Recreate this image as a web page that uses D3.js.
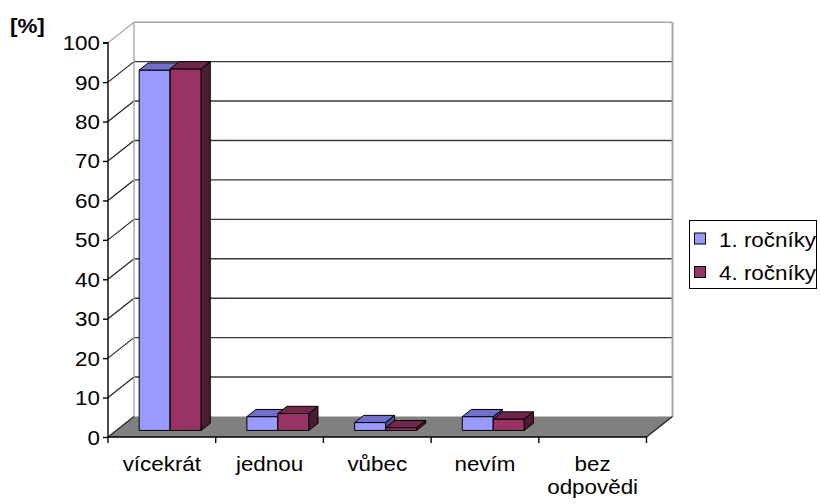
<!DOCTYPE html>
<html>
<head>
<meta charset="utf-8">
<script src="https://cdn.jsdelivr.net/npm/d3@7/dist/d3.min.js"></script>
<style>
  html, body { margin: 0; padding: 0; background: #fff; }
  svg { display: block; }
  text { font-family: "Liberation Sans", Arial, sans-serif; fill: #000; }
</style>
</head>
<body>
<svg id="chart" width="820" height="504"></svg>
<script>
// Data
const categories = ["vícekrát", "jednou", "vůbec", "nevím", "bez odpovědi"];
const seriesNames = ["1. ročníky", "4. ročníky"];
const firstYear = [91.4, 3.5, 2.0, 3.5, 0];
const fourthYear = [91.7, 4.3, 0.7, 2.9, 0];
const yTicks = [0, 10, 20, 30, 40, 50, 60, 70, 80, 90, 100];
const yAxisTitle = "[%]";

const seriesValues = [firstYear, fourthYear];
const palette = [
  { front: "#9999ff", top: "#7070cc", side: "#4d4d80" },
  { front: "#993366", top: "#73264d", side: "#4d1a33" }
];

const svg = d3.select("#chart");
const FONT = 20, SX = 1.12;

// 3D projection: full depth of the plot box
const DX = 26, DY = -20.5;
// bars occupy part of that depth
const frontF = 0.32, barF = 0.35;
const fdx = DX * frontF, fdy = DY * frontF;
const bdx = DX * barF, bdy = DY * barF;

const x = d3.scaleBand().domain(categories).range([108, 646.5]).padding(0);
const y = d3.scaleLinear().domain([0, 100]).range([437, 42.7]);
const inner = d3.scaleBand().domain(seriesNames)
  .range([0, x.bandwidth()]).paddingInner(0).paddingOuter(0.737);

const xL = x.range()[0], xR = x.range()[1];

// back wall
svg.append("rect")
  .attr("x", xL + DX).attr("y", y(100) + DY)
  .attr("width", xR - xL).attr("height", y(0) - y(100))
  .attr("fill", "#fff");

// back-wall gridlines
svg.append("g").selectAll("line")
  .data(yTicks.filter(t => t > 0 && t < 100)).join("line")
  .attr("x1", xL + DX).attr("x2", xR + DX)
  .attr("y1", d => y(d) + DY).attr("y2", d => y(d) + DY)
  .attr("stroke", "#3a3a3a").attr("stroke-width", 1.4);

// side-wall gridlines
svg.append("g").selectAll("line")
  .data(yTicks.filter(t => t > 0)).join("line")
  .attr("x1", xL).attr("x2", xL + DX)
  .attr("y1", d => y(d)).attr("y2", d => y(d) + DY)
  .attr("stroke", d => d === 100 ? "#a8a8a8" : "#222")
  .attr("stroke-width", 1.2);

// wall edges
const wallEdge = "#a8a8a8";
svg.append("line").attr("x1", xL + DX).attr("x2", xR + DX)
  .attr("y1", y(100) + DY).attr("y2", y(100) + DY)
  .attr("stroke", wallEdge).attr("stroke-width", 1.6);
svg.append("line").attr("x1", xL + DX).attr("x2", xL + DX)
  .attr("y1", y(100) + DY).attr("y2", y(0) + DY)
  .attr("stroke", wallEdge).attr("stroke-width", 1.4);
svg.append("line").attr("x1", xR + DX).attr("x2", xR + DX)
  .attr("y1", y(100) + DY).attr("y2", y(0) + DY)
  .attr("stroke", wallEdge).attr("stroke-width", 2);

// floor
svg.append("path")
  .attr("d", d3.line()([
    [xL, y(0)], [xR, y(0)], [xR + DX, y(0) + DY], [xL + DX, y(0) + DY]
  ]) + "Z")
  .attr("fill", "#808080");
svg.append("line").attr("x1", xR).attr("y1", y(0))
  .attr("x2", xR + DX).attr("y2", y(0) + DY)
  .attr("stroke", "#222").attr("stroke-width", 1.2);
svg.append("line").attr("x1", xL).attr("y1", y(0))
  .attr("x2", xL + DX).attr("y2", y(0) + DY)
  .attr("stroke", "#222").attr("stroke-width", 1.2);

// bars, drawn left to right so nearer faces overlap
const bars = svg.append("g").attr("stroke", "#000").attr("stroke-width", 1)
  .attr("stroke-linejoin", "round");
categories.forEach((cat, ci) => {
  seriesNames.forEach((s, si) => {
    const v = seriesValues[si][ci];
    if (!v) return;
    const x0 = x(cat) + inner(s) + fdx;
    const x1 = x0 + inner.bandwidth();
    const yT = y(v) + fdy, yB = y(0) + fdy;
    const c = palette[si];
    bars.append("rect").attr("x", x0).attr("y", yT)
      .attr("width", x1 - x0).attr("height", yB - yT).attr("fill", c.front);
    bars.append("path").attr("d", d3.line()([
      [x0, yT], [x1, yT], [x1 + bdx, yT + bdy], [x0 + bdx, yT + bdy]
    ]) + "Z").attr("fill", c.top);
    bars.append("path").attr("d", d3.line()([
      [x1, yT], [x1 + bdx, yT + bdy], [x1 + bdx, yB + bdy], [x1, yB]
    ]) + "Z").attr("fill", c.side);
  });
});

// y axis
const yAxis = svg.append("g").attr("transform", `translate(${xL},0)`)
  .call(d3.axisLeft(y).tickValues(yTicks).tickSize(5).tickFormat(d3.format("d")));
yAxis.select(".domain").attr("stroke", "#000").attr("stroke-width", 1.4)
  .attr("d", `M-5,${y(100)}H0V${y(0)}`);
yAxis.selectAll(".tick line").attr("stroke", "#000").attr("stroke-width", 1.4);
yAxis.selectAll(".tick text")
  .attr("x", null).attr("dy", null)
  .attr("font-size", FONT).attr("font-family", null)
  .attr("text-anchor", "end")
  .attr("transform", `translate(-8,7) scale(${SX},1)`);

// x axis
const xAxis = svg.append("g").attr("transform", `translate(0,${y(0)})`)
  .call(d3.axisBottom(x).tickSize(0).tickFormat(""));
xAxis.select(".domain").attr("stroke", "#000").attr("stroke-width", 1.4)
  .attr("d", `M${xL},0H${xR}`);
svg.append("g").selectAll("line")
  .data(categories.concat([null])).join("line")
  .attr("x1", (d, i) => xL + i * x.step()).attr("x2", (d, i) => xL + i * x.step())
  .attr("y1", y(0)).attr("y2", y(0) + 6)
  .attr("stroke", "#000").attr("stroke-width", 1.4);

// category labels (two-line where needed)
const catLabels = { "bez odpovědi": ["bez", "odpovědi"] };
categories.forEach(cat => {
  const lines = catLabels[cat] || [cat];
  const cx = x(cat) + x.bandwidth() / 2;
  lines.forEach((ln, li) => {
    svg.append("text")
      .attr("transform", `translate(${cx},${471 + li * 23}) scale(${SX},1)`)
      .attr("text-anchor", "middle").attr("font-size", FONT).text(ln);
  });
});

// axis title
svg.append("text")
  .attr("transform", `translate(10,33) scale(${SX},1)`)
  .attr("font-size", FONT).attr("font-weight", "bold").text(yAxisTitle);

// legend
const lg = svg.append("g");
lg.append("rect").attr("x", 689.5).attr("y", 220.5).attr("width", 127).attr("height", 68)
  .attr("fill", "#fff").attr("stroke", "#000").attr("stroke-width", 1);
seriesNames.forEach((s, i) => {
  const yy = 233 + i * 33.5;
  lg.append("rect").attr("x", 694.5).attr("y", yy).attr("width", 11).attr("height", 11)
    .attr("fill", palette[i].front).attr("stroke", "#000").attr("stroke-width", 1);
  lg.append("text")
    .attr("transform", `translate(719,${yy + 13.5}) scale(${SX},1)`)
    .attr("font-size", FONT).text(s);
});
</script>
</body>
</html>
